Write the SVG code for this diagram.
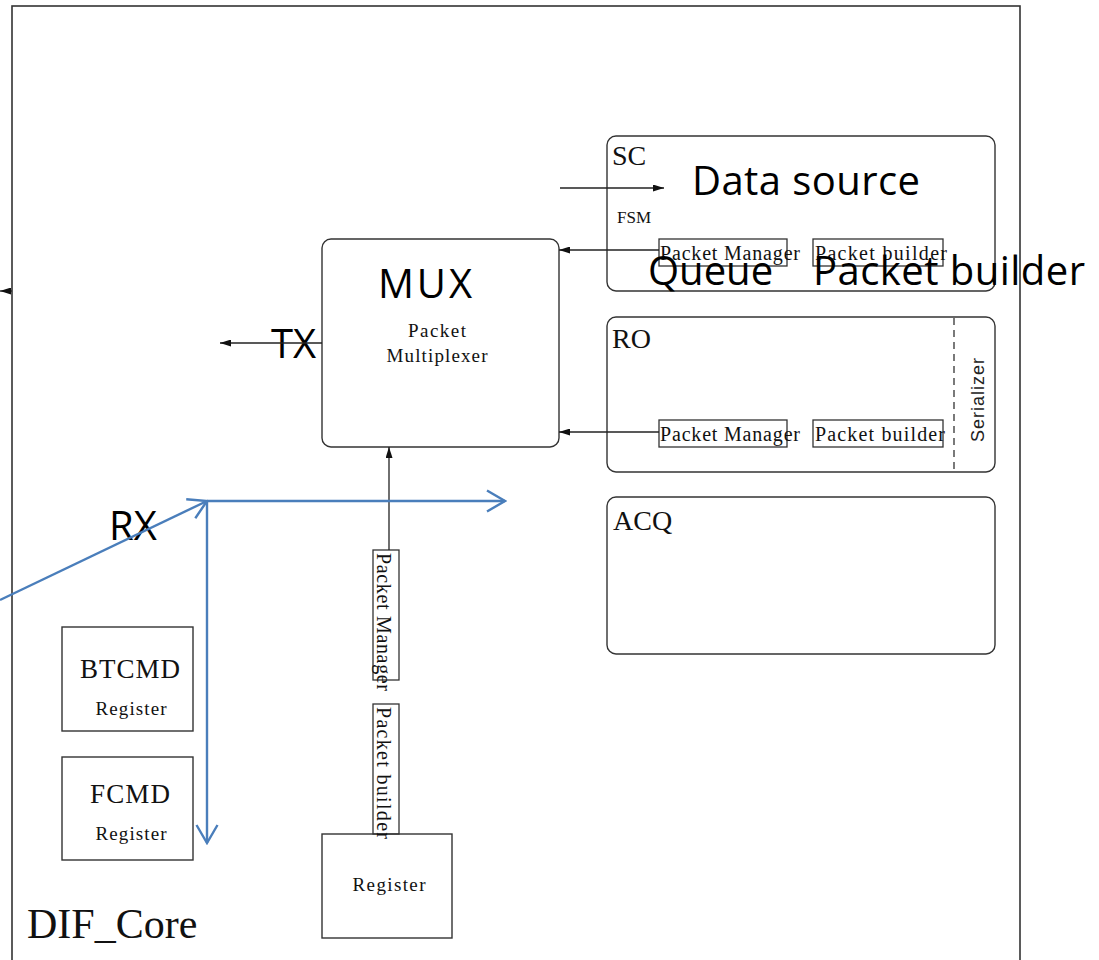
<svg xmlns="http://www.w3.org/2000/svg" width="1099" height="960" viewBox="0 0 1099 960">
  <defs>
    <style>
      .frame { fill: none; stroke: #333; stroke-width: 1.6; }
      .blk { fill: #fff; stroke: #333; stroke-width: 1.4; }
      .sub { fill: none; stroke: #333; stroke-width: 1.3; }
      .wire { fill: none; stroke: #222; stroke-width: 1.3; }
      .blue { fill: none; stroke: #4A7EBB; stroke-width: 2.4; }
      .serif { font-family: "Liberation Serif", "Times New Roman", serif; fill: #111; }
      .sans { font-family: "Liberation Sans", Arial, sans-serif; fill: #222; }
      .big { font-family: "Open Sans", "Liberation Sans", sans-serif; font-size: 40px; fill: #000; }
    </style>
    <marker id="ah" viewBox="0 0 11 7" refX="11" refY="3.5" markerWidth="11" markerHeight="7" markerUnits="userSpaceOnUse" orient="auto">
      <path d="M0,0 L11,3.5 L0,7 z" fill="#111"/>
    </marker>
    <marker id="open" viewBox="0 0 22 24" refX="20" refY="12" markerWidth="22" markerHeight="24" markerUnits="userSpaceOnUse" orient="auto">
      <path d="M2,1.5 L20,12 L2,22.5" fill="none" stroke="#4A7EBB" stroke-width="2.4"/>
    </marker>
  </defs>

  <rect width="1099" height="960" fill="#fff"/>

  <!-- enclosing core frame -->
  <g id="dif-core">
    <rect class="frame" x="12" y="6" width="1008" height="1000"/>
    <text class="serif" x="27" y="938" font-size="42">DIF_Core</text>
  </g>

  <!-- slow-control block -->
  <g id="sc">
    <rect class="blk" x="607" y="136" width="388" height="155" rx="9"/>
    <text class="serif" x="612" y="165" font-size="28">SC</text>
    <text class="serif" x="617" y="223" font-size="17">FSM</text>
    <rect class="sub" x="659" y="239" width="128" height="27"/>
    <text class="serif" x="660" y="260" font-size="20" textLength="140">Packet Manager</text>
    <rect class="sub" x="813" y="239" width="130" height="27"/>
    <text class="serif" x="815" y="260" font-size="20" textLength="132">Packet builder</text>
    <text class="big" x="692" y="195" textLength="228">Data source</text>
    <text class="big" x="648" y="285">Queue</text>
    <text class="big" x="813" y="285" textLength="272">Packet builder</text>
  </g>

  <!-- readout block -->
  <g id="ro">
    <rect class="blk" x="607" y="317" width="388" height="155" rx="9"/>
    <line x1="954" y1="318" x2="954" y2="471" stroke="#333" stroke-width="1.3" stroke-dasharray="7,5"/>
    <text class="serif" x="612" y="348" font-size="28">RO</text>
    <rect class="sub" x="659" y="420" width="128" height="27"/>
    <text class="serif" x="660" y="441" font-size="20" textLength="140">Packet Manager</text>
    <rect class="sub" x="813" y="420" width="130" height="27"/>
    <text class="serif" x="815" y="441" font-size="20" textLength="130">Packet builder</text>
    <text class="sans" transform="translate(984,442) rotate(-90)" font-size="18" textLength="84">Serializer</text>
  </g>

  <!-- acquisition block -->
  <g id="acq">
    <rect class="blk" x="607" y="497" width="388" height="157" rx="9"/>
    <text class="serif" x="613" y="530" font-size="28">ACQ</text>
  </g>

  <!-- packet multiplexer -->
  <g id="mux">
    <rect class="blk" x="322" y="239" width="237" height="208" rx="9"/>
    <text class="big" x="425" y="298" text-anchor="middle" textLength="94">MUX</text>
    <text class="serif" x="437" y="337" font-size="19" text-anchor="middle" textLength="58">Packet</text>
    <text class="serif" x="437" y="362" font-size="19" text-anchor="middle" textLength="101">Multiplexer</text>
  </g>

  <!-- bottom register feeding the multiplexer -->
  <g id="register">
    <rect class="blk" x="322" y="834" width="130" height="104"/>
    <text class="serif" x="389" y="891" font-size="19" text-anchor="middle" textLength="73">Register</text>
  </g>
  <g id="reg-path">
    <rect class="sub" x="373" y="550" width="26" height="130"/>
    <text class="serif" transform="translate(377,553) rotate(90)" font-size="20" textLength="138">Packet Manager</text>
    <rect class="sub" x="373" y="704" width="26" height="130"/>
    <text class="serif" transform="translate(377,707) rotate(90)" font-size="20" textLength="132">Packet builder</text>
  </g>

  <!-- command registers -->
  <g id="btcmd">
    <rect class="blk" x="62" y="627" width="131" height="104"/>
    <text class="serif" x="130" y="678" font-size="27" text-anchor="middle" textLength="100">BTCMD</text>
    <text class="serif" x="131" y="715" font-size="19" text-anchor="middle" textLength="71">Register</text>
  </g>
  <g id="fcmd">
    <rect class="blk" x="62" y="757" width="131" height="103"/>
    <text class="serif" x="130" y="803" font-size="27" text-anchor="middle" textLength="80">FCMD</text>
    <text class="serif" x="131" y="840" font-size="19" text-anchor="middle" textLength="71">Register</text>
  </g>

  <!-- signal labels -->
  <g id="labels">
    <text class="big" x="271" y="358">TX</text>
    <text class="big" x="109" y="540">RX</text>
  </g>

  <!-- connectors -->
  <g id="connectors">
    <line class="wire" x1="560" y1="188" x2="664" y2="188" marker-end="url(#ah)"/>
    <line class="wire" x1="659" y1="250" x2="559" y2="250" marker-end="url(#ah)"/>
    <line class="wire" x1="659" y1="432" x2="559" y2="432" marker-end="url(#ah)"/>
    <line class="wire" x1="322" y1="343" x2="220" y2="343" marker-end="url(#ah)"/>
    <line class="wire" x1="389" y1="550" x2="389" y2="447" marker-end="url(#ah)"/>
    <line class="wire" x1="12" y1="291" x2="0" y2="291" marker-end="url(#ah)"/>
    <line class="blue" x1="0" y1="600" x2="207" y2="501" marker-end="url(#open)"/>
    <line class="blue" x1="207" y1="501" x2="505" y2="501" marker-end="url(#open)"/>
    <line class="blue" x1="207" y1="501" x2="207" y2="843" marker-end="url(#open)"/>
  </g>
</svg>
